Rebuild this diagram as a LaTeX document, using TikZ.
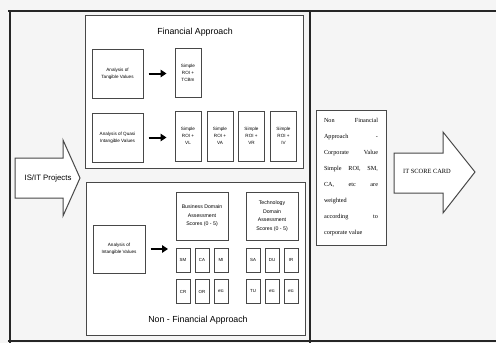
\documentclass[tikz,border=0pt]{standalone}
\usepackage{fontspec}
\setmainfont{Liberation Sans}
\newfontfamily\serifff{Liberation Serif}
\usetikzlibrary{arrows.meta}
\definecolor{linec}{HTML}{484848}
\tikzset{
  box/.style={draw=linec, line width=1pt, inner sep=0pt, align=center, text=black},
  txt/.style={inner sep=0pt, align=center, text=black},
  conn/.style={line width=2pt, -{Triangle[length=6pt,width=7.5pt]}, black},
  blockarrow/.style={draw=linec, line width=1pt, fill=white, line join=miter},
  fsmall/.style={font=\fontsize{4.6}{7}\selectfont},
  fmid/.style={font=\fontsize{5.2}{8.5}\selectfont},
  ftitle/.style={font=\fontsize{8.8}{10}\selectfont},
}
\begin{document}
\begin{tikzpicture}[x=1pt,y=-1pt]
\useasboundingbox (0,0) rectangle (496,343);
\fill[black!4] (0,0) rectangle (496,343);
% page frame
\draw[black!85, line width=1.6pt] (8,11) -- (496,11);
\draw[black!85, line width=1.4pt] (10,11) -- (10,343);
\draw[black!85, line width=1.4pt] (310,11) -- (310,343);
\draw[black!85, line width=1.6pt] (8,341) -- (496,341);
% group boxes
\node[box, fill=white, minimum width=218pt, minimum height=153pt] (fin) at (194,91.5) {};
\node[box, fill=white, minimum width=219pt, minimum height=153pt] (nonfin) at (195.5,258.5) {};
\node[txt, ftitle] (finT) at (195,32) {Financial Approach};
\node[txt, ftitle] (nonT) at (198,320) {Non - Financial Approach};
% financial
\node[box, fsmall, minimum width=51pt, minimum height=49pt] (tang) at (117.5,73.5) {Analysis of\\Tangible Values};
\node[box, fsmall, minimum width=26pt, minimum height=49pt] (roiT) at (188,72.5) {Simple\\ROI +\\TCBm};
\node[box, fsmall, minimum width=51pt, minimum height=49pt] (quasi) at (117.5,137.5) {Analysis of Quasi\\Intangible Values};
\node[box, fsmall, minimum width=26pt, minimum height=50pt] (roiA) at (188,136) {Simple\\ROI +\\VL};
\node[box, fsmall, minimum width=26pt, minimum height=50pt] (roiB) at (220,136) {Simple\\ROI +\\VA};
\node[box, fsmall, minimum width=26pt, minimum height=50pt] (roiC) at (251.5,136) {Simple\\ROI +\\VR};
\node[box, fsmall, minimum width=26pt, minimum height=50pt] (roiD) at (283.5,136) {Simple\\ROI +\\IV};
\draw[conn, shorten <=5pt, shorten >=8pt] (tang.east) -- (tang.east -| roiT.west);
\draw[conn, shorten <=5pt, shorten >=8pt] (quasi.east) -- (quasi.east -| roiA.west);
% non-financial
\node[box, fmid, minimum width=52pt, minimum height=48pt] (bus) at (202,216) {Business Domain\\Assessment\\Scores (0 - 5)};
\node[box, fmid, minimum width=52pt, minimum height=48pt] (tech) at (272,216) {Technology\\Domain\\Assessment\\Scores (0 - 5)};
\node[box, fsmall, minimum width=52pt, minimum height=48pt] (intang) at (119,249) {Analysis of\\Intangible Values};
\coordinate (iend) at (168,249);
\draw[conn, shorten <=5pt] (intang.east) -- (iend);
\foreach \n/\x/\y/\t in {sm/183/260/SM, ca/202/260/CA, mi/221/260/MI,
                         cr/183/291.5/CR, or/202/291.5/OR, be/221/291.5/etc,
                         sa/253/260/SA, du/272/260/DU, ir/291/260/IR,
                         tu/253/291.5/TU, te/272/291.5/etc, tf/291/291.5/etc}
  \node[box, font=\fontsize{4.4}{5}\selectfont, minimum width=14pt, minimum height=24pt] (\n) at (\x,\y) {\t};
% IS/IT projects arrow
\coordinate (p1) at (15,158); \coordinate (p2) at (63,158); \coordinate (p3) at (63,140);
\coordinate (p4) at (80,178); \coordinate (p5) at (63,216); \coordinate (p6) at (63,198);
\coordinate (p7) at (15,198);
\draw[blockarrow] (p1) -- (p2) -- (p3) -- (p4) -- (p5) -- (p6) -- (p7) -- cycle;
\node[txt, font=\fontsize{7.8}{10}\selectfont] (proj) at (48,178) {IS/IT Projects};
% right text box
\node[box, fill=white, minimum width=70pt, minimum height=135pt, font=\serifff\fontsize{6.2}{16}\selectfont] (rbox) at (351,177.5)
 {\makebox[54pt][s]{Non Financial}\\
  \makebox[54pt][s]{Approach \ -}\\
  \makebox[54pt][s]{Corporate Value}\\
  \makebox[54pt][s]{Simple ROI, SM,}\\
  \makebox[54pt][s]{CA, \ etc \ are}\\
  \makebox[54pt][l]{weighted}\\
  \makebox[54pt][s]{according \ to}\\
  \makebox[54pt][l]{corporate value}};
% score card arrow
\coordinate (q1) at (394,153); \coordinate (q2) at (443,153); \coordinate (q3) at (443,132);
\coordinate (q4) at (475,172); \coordinate (q5) at (443,213); \coordinate (q6) at (443,193);
\coordinate (q7) at (394,193);
\draw[blockarrow] (q1) -- (q2) -- (q3) -- (q4) -- (q5) -- (q6) -- (q7) -- cycle;
\node[txt, font=\serifff\fontsize{6.4}{7}\selectfont] (card) at (427,171) {IT SCORE CARD};
\end{tikzpicture}
\end{document}
